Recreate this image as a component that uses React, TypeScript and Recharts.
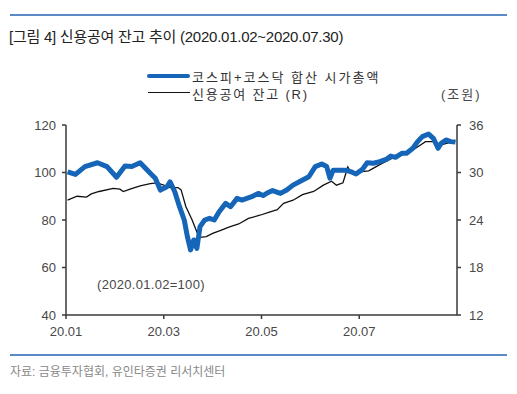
import { LineChart, Line, XAxis, YAxis } from 'recharts'

// 코스피+코스닥 합산 시가총액 (2020.01.02=100)
const capDates = [
  '01-02', '01-07', '01-13', '01-21', '01-27', '02-02', '02-07', '02-11', '02-16', '02-22',
  '02-25', '02-28', '03-03', '03-05', '03-08', '03-11', '03-14', '03-16', '03-18', '03-20',
  '03-22', '03-24', '03-27', '03-30', '04-02', '04-05', '04-09', '04-12', '04-16', '04-19',
  '04-22', '04-25', '04-29', '05-02', '05-05', '05-08', '05-13', '05-17', '05-21', '05-25',
  '05-31', '06-04', '06-08', '06-11', '06-13', '06-15', '06-20', '06-23', '06-26', '06-29',
  '07-03', '07-06', '07-10', '07-14', '07-18', '07-21', '07-24', '07-28', '07-31', '08-04',
  '08-07', '08-10', '08-14', '08-17', '08-20', '08-22', '08-25', '08-28', '08-31',
]
const capValues = [
  100.3, 99.2, 102.5, 104.1, 102.5, 98, 102.7, 102.5, 104.1, 99.7,
  97.6, 92.6, 94, 96.1, 91.9, 85.6, 80, 73, 67.4, 71.6,
  68, 77.2, 80, 80.7, 80, 83.5, 87, 85.6, 89.1, 88.4,
  89.1, 89.8, 91.2, 90.3, 91.5, 92.4, 91.2, 92.6, 94.7, 96.1,
  98.2, 102.5, 103.6, 102.5, 97.6, 101, 101, 101, 100.3, 99.4,
  101.3, 104.1, 103.9, 104.6, 105.5, 106.9, 106.4, 108.1, 108.1, 110.2,
  113, 115.1, 116.2, 114.4, 110.2, 112.3, 113.7, 113, 112.8,
]

// 신용공여 잔고 (조원, 우축)
const creditDates = [
  '01-02', '01-08', '01-14', '01-17', '01-22', '01-31', '02-04', '02-06', '02-10', '02-16',
  '02-22', '02-26', '03-01', '03-05', '03-10', '03-12', '03-15', '03-19', '03-22', '03-24',
  '03-28', '04-01', '04-06', '04-11', '04-17', '04-23', '04-30', '05-06', '05-11', '05-15',
  '05-21', '05-27', '06-03', '06-09', '06-14', '06-17', '06-21', '06-24', '06-26', '06-29',
  '07-03', '07-07', '07-14', '07-22', '07-31', '08-06', '08-12', '08-18', '08-22', '08-26',
  '08-31',
]
const creditValues = [
  26.5, 27.0, 26.9, 27.3, 27.6, 28.0, 27.9, 27.6, 27.9, 28.3,
  28.6, 28.7, 28.4, 28.1, 28.1, 27.8, 25.7, 24.0, 22.5, 21.8,
  21.9, 22.3, 22.7, 23.1, 23.5, 24.2, 24.6, 25.0, 25.3, 26.1,
  26.5, 27.2, 27.6, 28.4, 28.9, 28.4, 28.7, 30.7, 29.9, 29.9,
  30.1, 30.2, 31.0, 31.8, 32.4, 33.1, 33.9, 33.9, 33.5, 33.7,
  34.0,
]

const xTicks = [0, 2, 4, 6]
const xTickLabels = ['20.01', '20.03', '20.05', '20.07']
const leftTicks = [40, 60, 80, 100, 120]
const rightTicks = [12, 18, 24, 30, 36]

const daysInMonth = [31, 29, 31, 30, 31, 30, 31, 31, 30]

// month position: 0 = Jan 1, 1 = Feb 1, ...
function monthPos(md: string) {
  const [m, d] = md.split('-').map(Number)
  return m - 1 + (d - 1) / daysInMonth[m - 1]
}

const capData = capDates.map((d, i) => ({ t: monthPos(d), v: capValues[i] }))
const creditData = creditDates.map((d, i) => ({ t: monthPos(d), v: creditValues[i] }))

const FONT = '"Liberation Sans", Arial, "Noto Sans CJK KR", sans-serif'
const RULE = '#5a8ac6'
const AXIS = '#3a3a3a'
const TEXT = '#484848'

export default function App() {
  return (
    <div
      style={{
        position: 'absolute',
        left: 0,
        top: 0,
        width: 517,
        height: 394,
        background: '#fff',
        fontFamily: FONT,
        overflow: 'hidden',
      }}
    >
      {/* top rule + title */}
      <div style={{ position: 'absolute', left: 10, top: 14, width: 497, height: 1.5, background: RULE }} />
      <div
        style={{
          position: 'absolute',
          left: 9,
          top: 25,
          fontSize: 15,
          color: '#222',
          letterSpacing: -0.25,
          whiteSpace: 'nowrap',
        }}
      >
        [그림 4] 신용공여 잔고 추이 (2020.01.02~2020.07.30)
      </div>

      {/* legend */}
      <div style={{ position: 'absolute', left: 147, top: 73.5, width: 43, height: 4.5, borderRadius: 2, background: '#1565b8' }} />
      <div style={{ position: 'absolute', left: 192, top: 67, fontSize: 13, color: '#333', letterSpacing: 2, whiteSpace: 'nowrap' }}>
        코스피+코스닥 합산 시가총액
      </div>
      <div style={{ position: 'absolute', left: 148, top: 91.5, width: 42, height: 1.2, background: '#111' }} />
      <div style={{ position: 'absolute', left: 192, top: 84, fontSize: 13, color: '#333', letterSpacing: 1.8, whiteSpace: 'nowrap' }}>
        신용공여 잔고 (R)
      </div>
      <div style={{ position: 'absolute', left: 441, top: 84, fontSize: 13, color: TEXT, letterSpacing: 2, whiteSpace: 'nowrap' }}>
        (조원)
      </div>

      {/* chart */}
      <div style={{ position: 'absolute', left: 0, top: 0 }}>
        <LineChart width={517} height={394} margin={{ top: 125, right: 20, bottom: 49, left: 26 }}>
          <XAxis
            type="number"
            dataKey="t"
            domain={[0, 8]}
            ticks={xTicks}
            allowDataOverflow
            tickFormatter={(v) => xTickLabels[xTicks.indexOf(v)] ?? ''}
            tick={{ fontSize: 13, fill: TEXT, fontFamily: FONT }}
            stroke={AXIS}
            strokeWidth={1.5}
            tickSize={4}
            tickMargin={8}
            height={30}
          />
          <YAxis
            yAxisId="left"
            domain={[40, 120]}
            ticks={leftTicks}
            allowDataOverflow
            tick={{ fontSize: 13, fill: TEXT, fontFamily: FONT }}
            stroke={AXIS}
            strokeWidth={1.5}
            tickSize={4}
            tickMargin={6}
            width={40}
          />
          <YAxis
            yAxisId="right"
            orientation="right"
            domain={[12, 36]}
            ticks={rightTicks}
            allowDataOverflow
            tick={{ fontSize: 13, fill: TEXT, fontFamily: FONT, textAnchor: 'start' }}
            stroke={AXIS}
            strokeWidth={1.5}
            tickSize={4}
            tickMargin={8}
            width={40}
          />
          <Line
            yAxisId="right"
            data={creditData}
            dataKey="v"
            type="linear"
            stroke="#111"
            strokeWidth={1.3}
            dot={false}
            isAnimationActive={false}
          />
          <Line
            yAxisId="left"
            data={capData}
            dataKey="v"
            type="linear"
            stroke="#1565b8"
            strokeWidth={5}
            strokeLinejoin="round"
            dot={false}
            isAnimationActive={false}
          />
        </LineChart>
      </div>

      <div style={{ position: 'absolute', left: 97, top: 277, fontSize: 13, color: TEXT, letterSpacing: 0.3, whiteSpace: 'nowrap' }}>
        (2020.01.02=100)
      </div>

      {/* bottom rule + source */}
      <div style={{ position: 'absolute', left: 10, top: 354, width: 497, height: 1.5, background: RULE }} />
      <div style={{ position: 'absolute', left: 10, top: 362, fontSize: 12, color: '#888', whiteSpace: 'nowrap' }}>
        자료: 금융투자협회, 유인타증권 리서치센터
      </div>
    </div>
  )
}
